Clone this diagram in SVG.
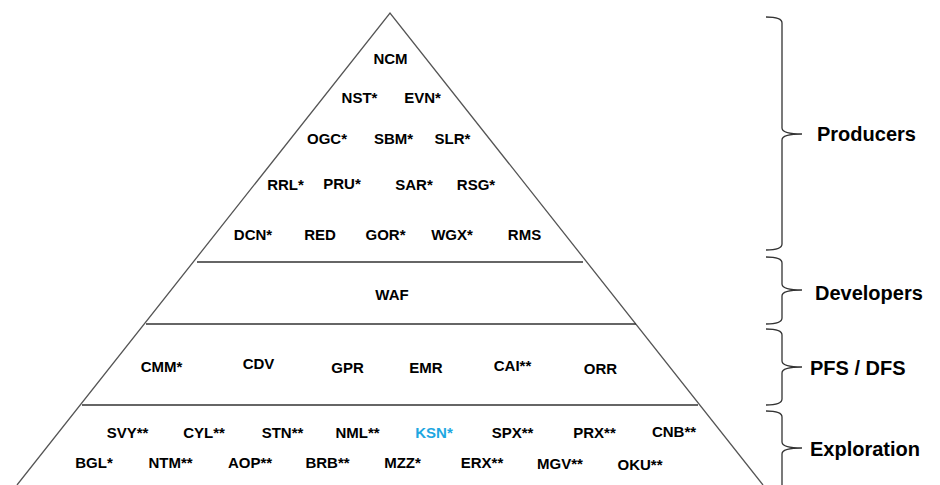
<svg xmlns="http://www.w3.org/2000/svg" width="940" height="485" viewBox="0 0 940 485">
<style>
.t{font-family:"Liberation Sans",Arial,sans-serif;font-weight:bold;font-size:15px;fill:#000;text-anchor:middle}
.k{fill:#1ea7e1}
.lbl{font-family:"Liberation Sans",Arial,sans-serif;font-weight:bold;font-size:20px;fill:#000}
.edge{stroke:#555;stroke-width:1.3;fill:none}
.tier{stroke:#333;stroke-width:1.3;fill:none}
.brace{stroke:#333;stroke-width:1.3;fill:none}
</style>
<rect width="940" height="485" fill="#fff"/>
<g id="pyramid">
<path class="edge" d="M17,485 L390,13 L763,485"/>
<line class="tier" x1="197" y1="262" x2="583" y2="262"/>
<line class="tier" x1="146" y1="324" x2="636" y2="324"/>
<line class="tier" x1="82" y1="405" x2="698" y2="405"/>
</g>
<g id="producers">
<text class="t" x="390.5" y="64">NCM</text>
<text class="t" x="359.5" y="103">NST*</text>
<text class="t" x="422.5" y="103">EVN*</text>
<text class="t" x="327" y="144">OGC*</text>
<text class="t" x="393.5" y="144">SBM*</text>
<text class="t" x="452.5" y="144">SLR*</text>
<text class="t" x="285.5" y="190">RRL*</text>
<text class="t" x="342" y="189">PRU*</text>
<text class="t" x="414" y="190">SAR*</text>
<text class="t" x="476" y="190">RSG*</text>
<text class="t" x="253" y="240">DCN*</text>
<text class="t" x="320" y="240">RED</text>
<text class="t" x="385.5" y="240">GOR*</text>
<text class="t" x="452" y="240">WGX*</text>
<text class="t" x="524.5" y="240">RMS</text>
</g>
<g id="developers">
<text class="t" x="392" y="300">WAF</text>
</g>
<g id="pfs-dfs">
<text class="t" x="161.5" y="372">CMM*</text>
<text class="t" x="258.5" y="369">CDV</text>
<text class="t" x="347.5" y="373">GPR</text>
<text class="t" x="426" y="373">EMR</text>
<text class="t" x="512.5" y="371">CAI**</text>
<text class="t" x="600.5" y="374">ORR</text>
</g>
<g id="exploration">
<text class="t" x="127.5" y="438">SVY**</text>
<text class="t" x="204" y="438">CYL**</text>
<text class="t" x="282.5" y="438">STN**</text>
<text class="t" x="357.5" y="438">NML**</text>
<text class="t k" x="434" y="438">KSN*</text>
<text class="t" x="512.5" y="438">SPX**</text>
<text class="t" x="594.5" y="438">PRX**</text>
<text class="t" x="674" y="437">CNB**</text>
<text class="t" x="94" y="468">BGL*</text>
<text class="t" x="170.5" y="468">NTM**</text>
<text class="t" x="250" y="468">AOP**</text>
<text class="t" x="327.5" y="468">BRB**</text>
<text class="t" x="402.5" y="468">MZZ*</text>
<text class="t" x="482" y="468">ERX**</text>
<text class="t" x="560" y="469">MGV**</text>
<text class="t" x="640" y="470">OKU**</text>
</g>
<g id="braces">
<path class="brace" d="M766,17 Q782,17 782,23 L782,128 Q782,134 802,134 Q782,134 782,140 L782,244 Q782,250 766,250"/>
<path class="brace" d="M766,257 Q782,257 782,263 L782,284 Q782,290 802,290 Q782,290 782,296 L782,318 Q782,324 766,324"/>
<path class="brace" d="M766,329 Q782,329 782,335 L782,361 Q782,367 802,367 Q782,367 782,373 L782,399 Q782,405 766,405"/>
<path class="brace" d="M766,411 Q782,411 782,417 L782,442 Q782,448 802,448 Q782,448 782,454 L782,490"/>
</g>
<g id="labels">
<text class="lbl" x="817" y="141">Producers</text>
<text class="lbl" x="815" y="300">Developers</text>
<text class="lbl" x="810" y="375">PFS / DFS</text>
<text class="lbl" x="810" y="456">Exploration</text>
</g>
</svg>
